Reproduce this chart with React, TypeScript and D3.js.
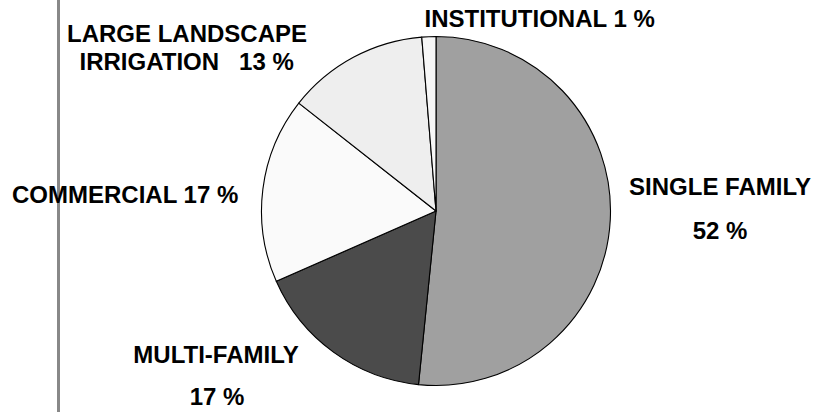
import React from "react";
import * as d3 from "d3";

const categories = ["SINGLE FAMILY", "MULTI-FAMILY", "COMMERCIAL", "LARGE LANDSCAPE IRRIGATION", "INSTITUTIONAL"];
const values = [51.6, 16.8, 17.2, 13.1, 1.3];
const percentLabels = ["52 %", "17 %", "17 %", "13 %", "1 %"];
const colors = ["#a0a0a0", "#4b4b4b", "#fafafa", "#eeeeee", "#f7f7f7"];

const W = 817;
const H = 412;
const cx = 436;
const cy = 211;
const R = 174.5;

export default function App() {
  const pie = d3.pie<number>().sort(null).startAngle(0).endAngle(2 * Math.PI)(values);
  const arc = d3.arc<d3.PieArcDatum<number>>().innerRadius(0).outerRadius(R);
  const font = "'Liberation Sans', Arial, sans-serif";
  const ts: React.CSSProperties = { fontFamily: font, fontWeight: 700, fontSize: 24, whiteSpace: "pre" };
  return (
    <svg width={W} height={H} style={{ position: "absolute", left: 0, top: 0, background: "#fff" }}>
      <rect x={0} y={0} width={W} height={H} fill="#fff" />
      <g transform={`translate(${cx},${cy})`}>
        {pie.map((d, i) => (
          <path key={categories[i]} d={arc(d) || ""} fill={colors[i]} stroke="#000" strokeWidth={1.1} strokeLinejoin="round" />
        ))}
      </g>
      <line x1={58.5} x2={58.5} y1={0} y2={H} stroke="#888888" strokeWidth={3} />
      <text x={424.5} y={27} style={ts}>{`INSTITUTIONAL ${percentLabels[4]}`}</text>
      <text x={67} y={42} style={ts}>LARGE LANDSCAPE</text>
      <text x={79.5} y={70} style={ts}>{`IRRIGATION   ${percentLabels[3]}`}</text>
      <text x={720} y={195} textAnchor="middle" style={ts}>{categories[0]}</text>
      <text x={720} y={239} textAnchor="middle" style={ts}>{percentLabels[0]}</text>
      <text x={12} y={203} style={ts}>{`${categories[2]} ${percentLabels[2]}`}</text>
      <text x={216} y={363} textAnchor="middle" style={ts}>{categories[1]}</text>
      <text x={217} y={405} textAnchor="middle" style={ts}>{percentLabels[1]}</text>
    </svg>
  );
}
